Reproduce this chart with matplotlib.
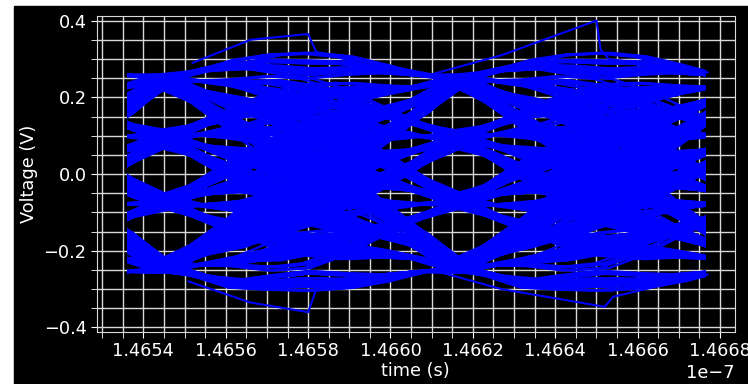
import numpy as np
import matplotlib
matplotlib.use("Agg")
import matplotlib.pyplot as plt
from matplotlib.patches import Rectangle
from matplotlib.ticker import MultipleLocator, ScalarFormatter

# PAM4 eye diagram

levels = [-0.245, -0.075, 0.095, 0.248]  # volts of the 4 symbol levels
symbols = ("3102230113200321" "1032021330120231" "2013300221103312"
           "0230132101223003" "1120331002132230" "0312113022013301"
           "2331020031122103" "3021120330012312" "0132201133020213"
           "1203302110230031" "2210031322130120" "3300123102213201"
           "2103312002311302" "3120023103321021" "0331220130021132"
           "1302203311200231" "3012213002331120" "2230011323100213" "0213")
# pulse response, one tap every UI/8 (before the peak: -3 .. -0.125 UI)
pulse_pre = [0.0, 0.0, 0.02, -0.03, -0.04, -0.03, 0.0, 0.0,   # -3.0 .. -2.125
             0.01, 0.0, 0.02, 0.05, 0.07, 0.05, 0.02, 0.0,    # -2.0 .. -1.125
             0.03, 0.16, 0.34, 0.46, 0.58, 0.68, 0.76, 0.84]  # -1.0 .. -0.125
pulse_peak = 1.0
# after the peak: 0.125 .. 3.0 UI
pulse_post = [0.92, 0.84, 0.74, 0.62, 0.50, 0.36, 0.20, 0.05,    # 0.125 .. 1.0
              0.0, 0.03, 0.06, 0.09, 0.06, 0.03, 0.0, 0.02,      # 1.125 .. 2.0
              0.0, -0.02, -0.04, -0.05, -0.04, -0.02, 0.0, 0.0]  # 2.125 .. 3.0
ui = 7.14e-11          # unit interval (s)
t_eye = 1.465445e-7    # centre of the first eye (s)
t_start = 1.46536e-7   # first sample of every trace (s)
t_stop = 1.466766e-7   # last sample of every trace (s)
jitter_a = [0.0, 0.02, -0.015, 0.03, -0.025, 0.01, -0.03, 0.015, -0.005]  # UI
jitter_b = [0.025, -0.01, 0.005, -0.03, 0.015, -0.02, 0.03, -0.025, 0.01]  # UI

# a few glitch traces that stick out of the bundle
glitch_t = [[1.46552, 1.46566, 1.46580, 1.46582, 1.46610],
            [1.46551, 1.46566, 1.46580, 1.46582, 1.46610],
            [1.46610, 1.46627, 1.46650, 1.46651, 1.46653, 1.46677],
            [1.46610, 1.46627, 1.46652, 1.46654, 1.46677]]
glitch_v = [[0.29, 0.35, 0.365, 0.318, 0.26],
            [-0.28, -0.335, -0.36, -0.30, -0.25],
            [0.26, 0.31, 0.40, 0.324, 0.30, 0.265],
            [-0.25, -0.30, -0.346, -0.32, -0.262]]

# waveform on a UI/8 grid
sym = np.array([levels[int(c)] for c in symbols])
train = np.zeros(8 * len(sym))
train[::8] = sym
pulse = np.array(pulse_pre + [pulse_peak] + pulse_post)
wave = np.convolve(train, pulse)
half = len(pulse_pre)

fig = plt.figure(figsize=(7.48, 3.84), dpi=100, facecolor="white")
fig.add_artist(Rectangle((14 / 748, 0), 1 - 14 / 748, 1 - 6 / 384,
                         transform=fig.transFigure, color="black", zorder=-10))
ax = fig.add_axes([97 / 748, 1 - 331.7 / 384, 637.5 / 748, 315.7 / 384])
ax.set_facecolor("black")

clip = Rectangle((t_start, -1), t_stop - t_start, 2, transform=ax.transData)
offs = np.arange(-2, 17)
for jitter in (jitter_a, jitter_b):
    for n, k in enumerate(range(4, len(sym) - 5)):
        idx = 8 * k + half + offs
        tt = t_eye + (offs / 8 + jitter[n % len(jitter)]) * ui
        line, = ax.plot(tt, wave[idx], color="#0000ff", lw=1.7)
        line.set_clip_path(clip)

for tg, vg in zip(glitch_t, glitch_v):
    ax.plot(np.array(tg) * 1e-7, vg, color="#0000ff", lw=1.5)

ax.set_xlim(1.4652876e-7, 1.466835e-7)
ax.set_ylim(-0.411, 0.412)
ax.xaxis.set_major_locator(MultipleLocator(2e-11))
ax.xaxis.set_minor_locator(MultipleLocator(5e-12))
ax.yaxis.set_major_locator(MultipleLocator(0.2))
ax.yaxis.set_minor_locator(MultipleLocator(0.05))
fmt = ScalarFormatter(useOffset=False)
ax.xaxis.set_major_formatter(fmt)

ax.grid(which="both", color="#d8d8d8", lw=1.0)
ax.set_axisbelow(True)
for s in ax.spines.values():
    s.set_color("#d8d8d8")
ax.tick_params(which="both", colors="white", labelsize=12.8)
ax.tick_params(which="both", length=4)
ax.xaxis.get_offset_text().set_color("white")
ax.xaxis.get_offset_text().set_fontsize(12.8)

ax.set_xlabel("time (s)", color="white", fontsize=12.8, labelpad=1)
ax.set_ylabel("Voltage (V)", color="white", fontsize=12.8)

fig.savefig("out.png", dpi=100, facecolor=fig.get_facecolor())
